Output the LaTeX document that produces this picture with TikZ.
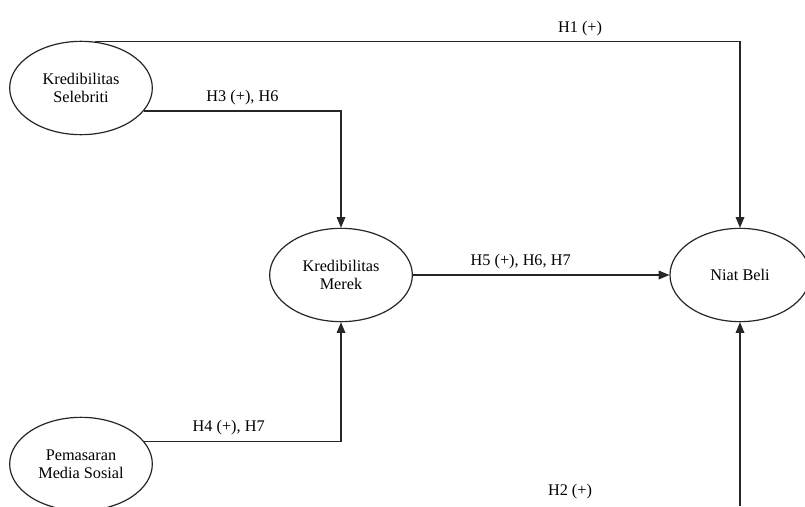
\documentclass[tikz,border=0pt]{standalone}
\usepackage{fontspec}
\setmainfont{Liberation Serif}
\usetikzlibrary{shapes.geometric,arrows.meta}
\tikzset{
  var/.style={draw=black!85, line width=0.9pt, ellipse, inner sep=0pt,
    minimum width=107pt, minimum height=70pt, align=center},
  hyp/.style={draw=black!85, line width=0.9pt, -{Triangle[length=8pt,width=6.5pt]}},
  lbl/.style={above=4pt, inner sep=0pt}
}
\begin{document}
\begin{tikzpicture}[x=0.75pt, y=-0.75pt, font=\fontsize{12.2}{13.5}\selectfont]
          \useasboundingbox (0, 0) rectangle (805, 506);
          \draw (81, 88) node[var](ks){Kredibilitas\\Selebriti} ;
          \draw (341, 275) node[var](km){Kredibilitas\\Merek} ;
          \draw (740, 275) node[var, minimum width=105pt](nb){Niat Beli} ;
          \draw (81, 464) node[var](pm){Pemasaran\\Media Sosial} ;
          \coordinate (bot) at (740, 506);
          \draw[hyp] (ks.73) -| (nb.north) node[lbl, pos=0.376]{H1 (+)};
          \draw[hyp] (ks.-20) -| (km.north) node[lbl, pos=0.25]{H3 (+), H6};
          \draw[hyp] (pm.20) -| (km.south) node[lbl, pos=0.215]{H4 (+), H7};
          \draw[hyp] (km.east) -- (nb.west) node[lbl, pos=0.42]{H5 (+), H6, H7};
          \draw[hyp] (bot) -- (nb.south);
          \draw (570, 492) node(h2){H2 (+)} ;
        \end{tikzpicture}
\end{document}
